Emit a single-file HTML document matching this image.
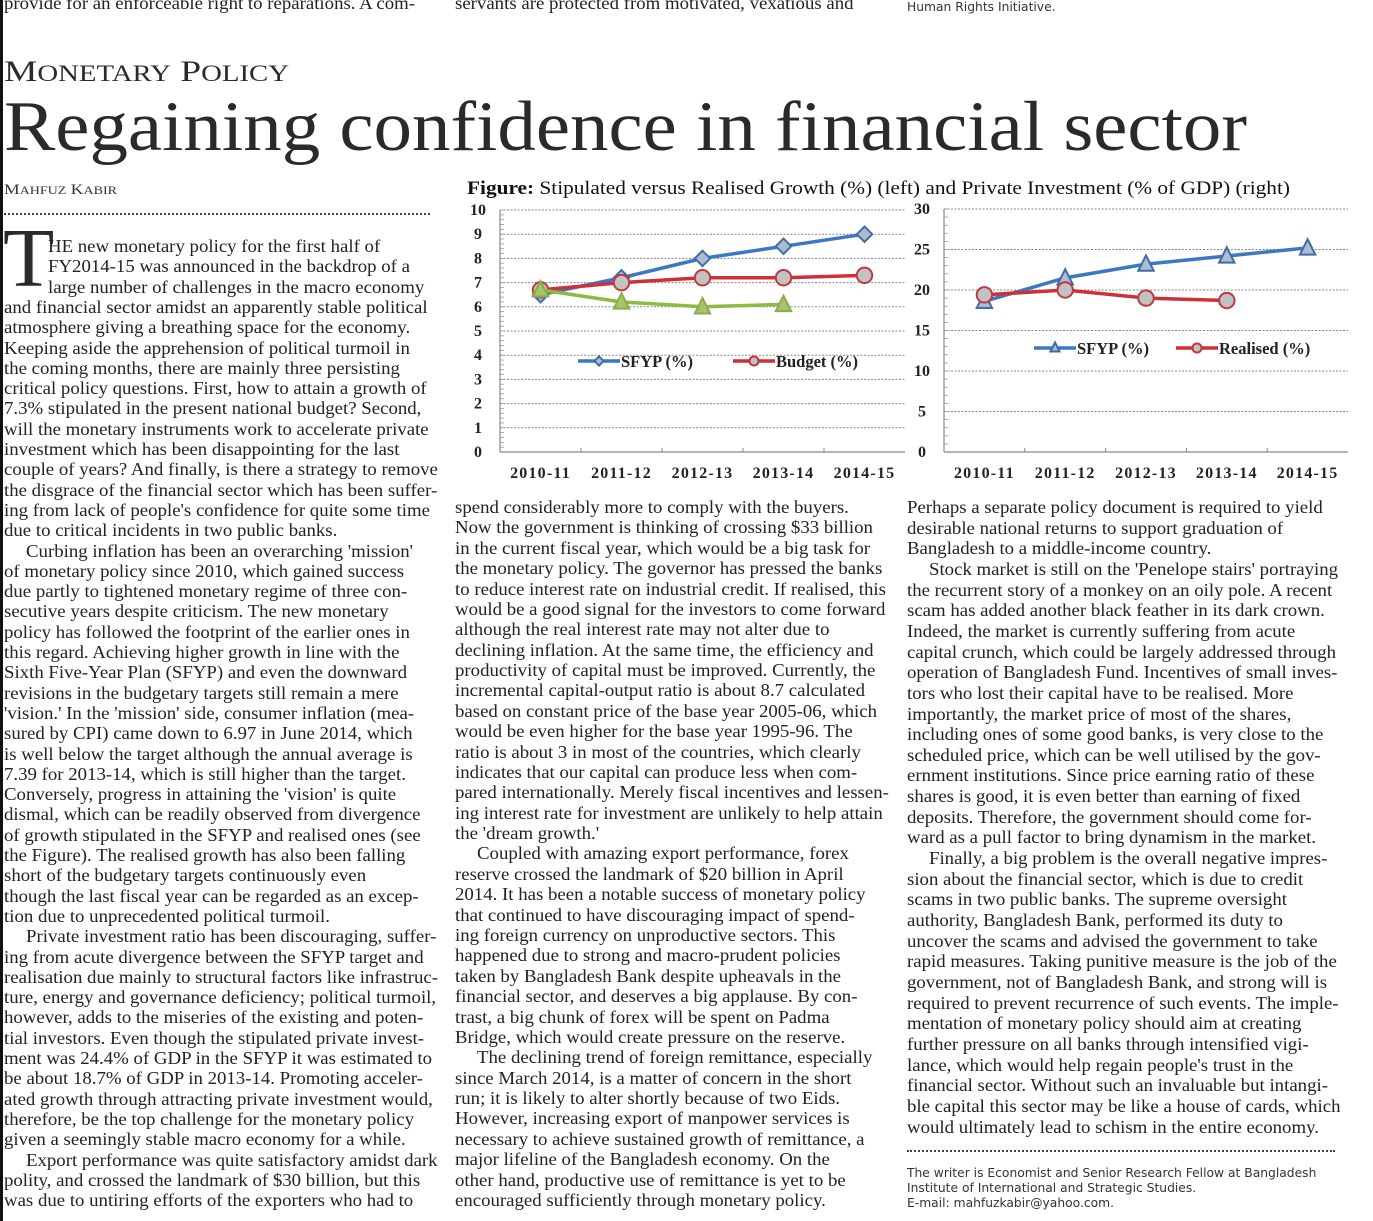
<!DOCTYPE html>
<html><head><meta charset="utf-8">
<style>
html,body{margin:0;padding:0;background:#fff;}
body{width:1373px;height:1221px;position:relative;overflow:hidden;font-family:"Liberation Serif",serif;color:#222;}
.ln{position:absolute;white-space:nowrap;font-size:18px;line-height:20px;height:20px;transform:scaleX(1.045);transform-origin:0 0;}
.sans{font-family:"DejaVu Sans","Liberation Sans",sans-serif;font-size:12.3px;color:#333;position:absolute;white-space:nowrap;}
.dots{position:absolute;height:0;border-top:2px dotted #444;}
</style></head>
<body>
<div style="position:absolute;left:0;top:0;width:3px;height:1221px;background:#111;"></div>
<div class="ln" style="left:4px;top:-7px;">provide for an enforceable right to reparations. A com-</div>
<div class="ln" style="left:455px;top:-7px;">servants are protected from motivated, vexatious and</div>
<div class="sans" style="left:907px;top:0px;">Human Rights Initiative.</div>

<svg width="1373" height="230" style="position:absolute;left:0;top:0">
<text x="4" y="81" font-family="Liberation Serif" font-size="30" fill="#2a2a2a" textLength="285" lengthAdjust="spacingAndGlyphs">M<tspan font-size="23">ONETARY</tspan> P<tspan font-size="23">OLICY</tspan></text>
<text x="4" y="150" font-family="Liberation Serif" font-size="71" fill="#2a2a2a" textLength="1243" lengthAdjust="spacingAndGlyphs">Regaining confidence in financial sector</text>
<text x="4" y="194" font-family="Liberation Serif" font-size="15" fill="#333" textLength="113" lengthAdjust="spacingAndGlyphs">M<tspan font-size="12">AHFUZ</tspan> K<tspan font-size="12">ABIR</tspan></text>
<text x="467" y="194" font-family="Liberation Serif" font-size="19" fill="#111" textLength="823" lengthAdjust="spacingAndGlyphs"><tspan font-weight="bold">Figure:</tspan> Stipulated versus Realised Growth (%) (left) and Private Investment (% of GDP) (right)</text>
</svg>
<div class="dots" style="left:4px;top:213px;width:426px;"></div>
<div style="position:absolute;left:3px;top:214px;font-size:84px;line-height:90px;font-family:'Liberation Serif',serif;color:#2a2a2a;">T</div>

<div id="text"></div>

<div class="dots" style="left:907px;top:1150px;width:428px;"></div>
<div class="sans" style="left:907px;top:1166px;">The writer is Economist and Senior Research Fellow at Bangladesh</div>
<div class="sans" style="left:907px;top:1181px;">Institute of International and Strategic Studies.</div>
<div class="sans" style="left:907px;top:1196px;">E-mail: mahfuzkabir@yahoo.com.</div>

<svg id="charts" width="1373" height="1221" style="position:absolute;left:0;top:0;pointer-events:none"></svg>

<script>
// ===== Chart data =====
const categories = ["2010-11","2011-12","2012-13","2013-14","2014-15"];
const leftTicks = [0,1,2,3,4,5,6,7,8,9,10];
const growthSFYP = [6.5,7.2,8.0,8.5,9.0];
const growthBudget = [6.7,7.0,7.2,7.2,7.3];
const growthRealised = [6.7,6.2,6.0,6.1];
const rightTicks = [0,5,10,15,20,25,30];
const investSFYP = [18.6,21.5,23.2,24.2,25.2];
const investRealised = [19.4,20.0,19.0,18.7];

// ===== Text data =====
const col1 = [
"HE new monetary policy for the first half of",
"FY2014-15 was announced in the backdrop of a",
"large number of challenges in the macro economy",
"and financial sector amidst an apparently stable political",
"atmosphere giving a breathing space for the economy.",
"Keeping aside the apprehension of political turmoil in",
"the coming months, there are mainly three persisting",
"critical policy questions. First, how to attain a growth of",
"7.3% stipulated in the present national budget? Second,",
"will the monetary instruments work to accelerate private",
"investment which has been disappointing for the last",
"couple of years? And finally, is there a strategy to remove",
"the disgrace of the financial sector which has been suffer-",
"ing from lack of people's confidence for quite some time",
"due to critical incidents in two public banks.",
"¶Curbing inflation has been an overarching 'mission'",
"of monetary policy since 2010, which gained success",
"due partly to tightened monetary regime of three con-",
"secutive years despite criticism. The new monetary",
"policy has followed the footprint of the earlier ones in",
"this regard. Achieving higher growth in line with the",
"Sixth Five-Year Plan (SFYP) and even the downward",
"revisions in the budgetary targets still remain a mere",
"'vision.' In the 'mission' side, consumer inflation (mea-",
"sured by CPI) came down to 6.97 in June 2014, which",
"is well below the target although the annual average is",
"7.39 for 2013-14, which is still higher than the target.",
"Conversely, progress in attaining the 'vision' is quite",
"dismal, which can be readily observed from divergence",
"of growth stipulated in the SFYP and realised ones (see",
"the Figure). The realised growth has also been falling",
"short of the budgetary targets continuously even",
"though the last fiscal year can be regarded as an excep-",
"tion due to unprecedented political turmoil.",
"¶Private investment ratio has been discouraging, suffer-",
"ing from acute divergence between the SFYP target and",
"realisation due mainly to structural factors like infrastruc-",
"ture, energy and governance deficiency; political turmoil,",
"however, adds to the miseries of the existing and poten-",
"tial investors. Even though the stipulated private invest-",
"ment was 24.4% of GDP in the SFYP it was estimated to",
"be about 18.7% of GDP in 2013-14. Promoting acceler-",
"ated growth through attracting private investment would,",
"therefore, be the top challenge for the monetary policy",
"given a seemingly stable macro economy for a while.",
"¶Export performance was quite satisfactory amidst dark",
"polity, and crossed the landmark of $30 billion, but this",
"was due to untiring efforts of the exporters who had to"];
const col2 = [
"spend considerably more to comply with the buyers.",
"Now the government is thinking of crossing $33 billion",
"in the current fiscal year, which would be a big task for",
"the monetary policy. The governor has pressed the banks",
"to reduce interest rate on industrial credit. If realised, this",
"would be a good signal for the investors to come forward",
"although the real interest rate may not alter due to",
"declining inflation. At the same time, the efficiency and",
"productivity of capital must be improved. Currently, the",
"incremental capital-output ratio is about 8.7 calculated",
"based on constant price of the base year 2005-06, which",
"would be even higher for the base year 1995-96. The",
"ratio is about 3 in most of the countries, which clearly",
"indicates that our capital can produce less when com-",
"pared internationally. Merely fiscal incentives and lessen-",
"ing interest rate for investment are unlikely to help attain",
"the 'dream growth.'",
"¶Coupled with amazing export performance, forex",
"reserve crossed the landmark of $20 billion in April",
"2014. It has been a notable success of monetary policy",
"that continued to have discouraging impact of spend-",
"ing foreign currency on unproductive sectors. This",
"happened due to strong and macro-prudent policies",
"taken by Bangladesh Bank despite upheavals in the",
"financial sector, and deserves a big applause. By con-",
"trast, a big chunk of forex will be spent on Padma",
"Bridge, which would create pressure on the reserve.",
"¶The declining trend of foreign remittance, especially",
"since March 2014, is a matter of concern in the short",
"run; it is likely to alter shortly because of two Eids.",
"However, increasing export of manpower services is",
"necessary to achieve sustained growth of remittance, a",
"major lifeline of the Bangladesh economy. On the",
"other hand, productive use of remittance is yet to be",
"encouraged sufficiently through monetary policy."];
const col3 = [
"Perhaps a separate policy document is required to yield",
"desirable national returns to support graduation of",
"Bangladesh to a middle-income country.",
"¶Stock market is still on the 'Penelope stairs' portraying",
"the recurrent story of a monkey on an oily pole. A recent",
"scam has added another black feather in its dark crown.",
"Indeed, the market is currently suffering from acute",
"capital crunch, which could be largely addressed through",
"operation of Bangladesh Fund. Incentives of small inves-",
"tors who lost their capital have to be realised. More",
"importantly, the market price of most of the shares,",
"including ones of  some good banks, is very close to the",
"scheduled price, which can be well utilised by the gov-",
"ernment institutions. Since price earning ratio of these",
"shares is good, it is even better than earning of fixed",
"deposits. Therefore, the government should come for-",
"ward as a pull factor to bring dynamism in the market.",
"¶Finally, a big problem is the overall negative impres-",
"sion about the financial sector, which is due to credit",
"scams in two public banks. The supreme oversight",
"authority, Bangladesh Bank, performed its duty to",
"uncover the scams and advised the government to take",
"rapid measures. Taking punitive measure is the job of the",
"government, not of Bangladesh Bank, and strong will is",
"required to prevent recurrence of such events. The imple-",
"mentation of monetary policy should aim at creating",
"further pressure on all banks through intensified vigi-",
"lance, which would help regain people's trust in the",
"financial sector. Without such an invaluable but intangi-",
"ble capital this sector may be like a house of cards, which",
"would ultimately lead to schism in the entire economy."];

const host = document.getElementById('text');
function placeCol(lines, x, y0, lh, colName, dropLines) {
  lines.forEach((t, i) => {
    const d = document.createElement('div');
    d.className = 'ln';
    
    
    let left = x;
    if (t.startsWith('¶')) { t = t.slice(1); left = x + 22; }
    if (i < dropLines) left = x + 44;
    d.textContent = t;
    d.style.left = left + 'px';
    d.style.top = (y0 + lh * i - 10) + 'px';
    host.appendChild(d);
  });
}
placeCol(col1, 4, 246, 20.3, 'column-1', 3);
placeCol(col2, 455, 507, 20.38, 'column-2', 0);
placeCol(col3, 907, 507, 20.65, 'column-3', 0);

// ===== Charts =====
const NS = 'http://www.w3.org/2000/svg';
const svg = document.getElementById('charts');
function mk(tag, attrs, parent) {
  const e = document.createElementNS(NS, tag);
  for (const k in attrs) e.setAttribute(k, attrs[k]);
  (parent || svg).appendChild(e);
  return e;
}
function drawChart(cfg) {
  const g = mk('g', {});
  
  
  const ymax = cfg.ticks[cfg.ticks.length - 1];
  const yS = v => cfg.y0 - (v / ymax) * (cfg.y0 - cfg.y1);
  const step = (cfg.x1 - cfg.x0) / categories.length;
  const xS = i => cfg.x0 + step * (i + 0.5);
  cfg.ticks.forEach(t => {
    if (t > 0) {
      const gl = mk('line', {x1: cfg.x0, x2: cfg.x1, y1: yS(t), y2: yS(t), stroke: '#888', 'stroke-width': 1, 'stroke-dasharray': '2,1.5'}, g);
      
      
    }
    const tl = mk('text', {x: cfg.x0 - 22, y: yS(t) + 5, 'text-anchor': 'middle', 'font-family': 'Liberation Serif', 'font-size': 16, 'font-weight': 'bold', fill: '#222'}, g);
    tl.textContent = t;
    
    
  });
  for (let v = 0; v <= ymax + 1e-9; v += cfg.minor) {
    mk('line', {x1: cfg.x0, x2: cfg.x0 + 4, y1: yS(v), y2: yS(v), stroke: '#999', 'stroke-width': 0.8}, g);
  }
  const ax = mk('line', {x1: cfg.x0, x2: cfg.x0, y1: cfg.y1, y2: cfg.y0, stroke: '#888', 'stroke-width': 1.2}, g);
  
  
  const bx = mk('line', {x1: cfg.x0, x2: cfg.x1, y1: cfg.y0, y2: cfg.y0, stroke: '#888', 'stroke-width': 1.2}, g);
  
  
  categories.forEach((c, i) => {
    if (i > 0) mk('line', {x1: cfg.x0 + step * i, x2: cfg.x0 + step * i, y1: cfg.y0, y2: cfg.y0 - 4, stroke: '#888'}, g);
    const xl = mk('text', {x: xS(i), y: cfg.y0 + 26, 'text-anchor': 'middle', 'font-family': 'Liberation Serif', 'font-size': 16, 'font-weight': 'bold', 'letter-spacing': 1.2, fill: '#222'}, g);
    xl.textContent = c;
    
    
  });
  cfg.series.forEach(s => {
    const pts = s.values.map((v, i) => xS(i) + ',' + yS(v)).join(' ');
    const pl = mk('polyline', {points: pts, fill: 'none', stroke: s.color, 'stroke-width': 3.5}, g);
    
    
    s.values.forEach((v, i) => {
      const m = marker(s.marker, xS(i), yS(v), s, g, 1.1);
      
      
    });
  });
  cfg.legend.forEach(L => {
    const s = cfg.series[L.idx];
    mk('line', {x1: L.x, x2: L.x + 42, y1: L.y, y2: L.y, stroke: s.color, 'stroke-width': 3.5}, g);
    const lm = marker(s.marker, L.x + 21, L.y, s, g, 0.65);
    
    
    const lt = mk('text', {x: L.x + 43, y: L.y + 6, 'font-family': 'Liberation Serif', 'font-size': 16.5, 'font-weight': 'bold', fill: '#222'}, g);
    lt.textContent = L.label;
    
    
  });
}
function marker(type, x, y, s, g, sc) {
  const r = 7 * sc;
  if (type === 'diamond') return mk('polygon', {points: `${x},${y - r} ${x + r},${y} ${x},${y + r} ${x - r},${y}`, fill: s.fill, stroke: s.mstroke, 'stroke-width': 2}, g);
  if (type === 'circle') return mk('circle', {cx: x, cy: y, r: r, fill: s.fill, stroke: s.mstroke, 'stroke-width': 2}, g);
  return mk('polygon', {points: `${x},${y - r - 1} ${x + r},${y + r - 1} ${x - r},${y + r - 1}`, fill: s.fill, stroke: s.mstroke, 'stroke-width': 2}, g);
}
drawChart({
  name: 'growth-chart', x0: 500, x1: 905, y0: 452, y1: 210, ticks: leftTicks, minor: 0.2,
  series: [
    {name: 'growth-sfyp', values: growthSFYP, color: '#3b78c4', marker: 'diamond', fill: '#aebbd0', mstroke: '#3e6ea8'},
    {name: 'growth-budget', values: growthBudget, color: '#cc3038', marker: 'circle', fill: '#c2c2c2', mstroke: '#c0383e'},
    {name: 'growth-realised', values: growthRealised, color: '#8cbb42', marker: 'triangle', fill: '#a7c36c', mstroke: '#8aac4a'}
  ],
  legend: [{idx: 0, x: 578, y: 361, label: 'SFYP (%)'}, {idx: 1, x: 733, y: 361, label: 'Budget (%)'}]
});
drawChart({
  name: 'investment-chart', x0: 944, x1: 1348, y0: 452, y1: 209, ticks: rightTicks, minor: 1,
  series: [
    {name: 'invest-sfyp', values: investSFYP, color: '#3b78c4', marker: 'triangle', fill: '#aebbd0', mstroke: '#3e6ea8'},
    {name: 'invest-realised', values: investRealised, color: '#cc3038', marker: 'circle', fill: '#c2c2c2', mstroke: '#c0383e'}
  ],
  legend: [{idx: 0, x: 1034, y: 348, label: 'SFYP (%)'}, {idx: 1, x: 1176, y: 348, label: 'Realised (%)'}]
});
</script>
</body></html>
